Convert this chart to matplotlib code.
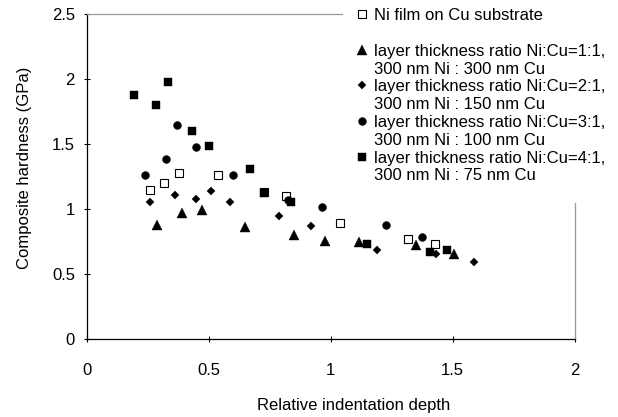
import matplotlib
matplotlib.use('Agg')
import matplotlib.pyplot as plt
from matplotlib.lines import Line2D

plt.rcParams['font.family'] = ['Liberation Sans', 'DejaVu Sans']
plt.rcParams['font.size'] = 12

# ---- data ----
ni_film_x = [0.258, 0.317, 0.377, 0.537, 0.725, 0.817, 1.038, 1.316, 1.427]
ni_film_y = [1.144, 1.197, 1.275, 1.259, 1.130, 1.098, 0.891, 0.770, 0.727]

ratio11_x = [0.289, 0.391, 0.471, 0.650, 0.848, 0.978, 1.117, 1.348, 1.505]
ratio11_y = [0.872, 0.964, 0.992, 0.860, 0.799, 0.755, 0.748, 0.722, 0.653]

ratio21_x = [0.259, 0.362, 0.448, 0.511, 0.589, 0.789, 0.919, 1.189, 1.432, 1.587]
ratio21_y = [1.056, 1.105, 1.074, 1.140, 1.054, 0.941, 0.868, 0.684, 0.653, 0.587]

ratio31_x = [0.239, 0.326, 0.369, 0.447, 0.600, 0.826, 0.966, 1.227, 1.375]
ratio31_y = [1.258, 1.386, 1.643, 1.474, 1.264, 1.071, 1.015, 0.878, 0.780]

ratio41_x = [0.195, 0.284, 0.332, 0.430, 0.500, 0.668, 0.725, 0.837, 1.148, 1.407, 1.475]
ratio41_y = [1.879, 1.798, 1.979, 1.597, 1.487, 1.308, 1.125, 1.056, 0.727, 0.671, 0.684]

x_ticks = [0, 0.5, 1, 1.5, 2]
x_tick_labels = ['0', '0.5', '1', '1.5', '2']
y_ticks = [0, 0.5, 1, 1.5, 2, 2.5]
y_tick_labels = ['0', '0.5', '1', '1.5', '2', '2.5']

label_ni = 'Ni film on Cu substrate'
labels_ratio = [
    ('layer thickness ratio Ni:Cu=1:1,', '300 nm Ni : 300 nm Cu'),
    ('layer thickness ratio Ni:Cu=2:1,', '300 nm Ni : 150 nm Cu'),
    ('layer thickness ratio Ni:Cu=3:1,', '300 nm Ni : 100 nm Cu'),
    ('layer thickness ratio Ni:Cu=4:1,', '300 nm Ni : 75 nm Cu'),
]

# ---- figure ----
W, H = 618, 417
fig = plt.figure(figsize=(W / 100, H / 100), dpi=100)
ax = fig.add_axes([86.7 / W, 1 - 338.7 / H, (574.7 - 86.7) / W, (338.7 - 14) / H])

st_open = dict(linestyle='none', marker='s', ms=5.2, mfc='white', mec='black', mew=0.8)
st_tri = dict(linestyle='none', marker='^', ms=6.5, color='black', mew=0.3)
st_dia = dict(linestyle='none', marker='D', ms=4.2, color='black', mew=0.3)
st_cir = dict(linestyle='none', marker='o', ms=5.7, color='black', mew=0.3)
st_sq = dict(linestyle='none', marker='s', ms=5.8, color='black', mew=0.3)

ax.plot(ni_film_x, ni_film_y, **st_open)
ax.plot(ratio11_x, ratio11_y, **st_tri)
ax.plot(ratio21_x, ratio21_y, **st_dia)
ax.plot(ratio31_x, ratio31_y, **st_cir)
ax.plot(ratio41_x, ratio41_y, **st_sq)

ax.set_xlim(0, 2)
ax.set_ylim(0, 2.5)
ax.set_xticks(x_ticks)
ax.set_xticklabels(x_tick_labels)
ax.set_yticks(y_ticks)
ax.set_yticklabels(y_tick_labels)
ax.tick_params(axis='both', direction='inout', length=5, width=0.8, colors='black', labelsize=12)
ax.tick_params(axis='x', pad=15)
ax.tick_params(axis='y', pad=6)

for s in ('left', 'bottom'):
    ax.spines[s].set_color('black')
    ax.spines[s].set_linewidth(0.9)
for s in ('top', 'right'):
    ax.spines[s].set_color('#999999')
    ax.spines[s].set_linewidth(0.9)
ax.spines['top'].set_bounds(0, 1.046)
ax.spines['right'].set_bounds(0, 1.046)

ax.set_xlabel('Relative indentation depth', fontsize=12)
ax.set_ylabel('Composite hardness (GPa)', fontsize=12)
ax.xaxis.set_label_coords(0.548, -0.184)
ax.yaxis.set_label_coords(-0.112, 0.525)

# ---- legend ----
blank = Line2D([], [], linestyle='none', marker=None)
handles = [Line2D([], [], **st_open), blank]
labels = [label_ni, ' ']
for st, (l1, l2) in zip([st_tri, st_dia, st_cir, st_sq], labels_ratio):
    handles += [Line2D([], [], **st), blank]
    labels += [l1, l2]

leg = fig.legend(handles, labels, loc='upper left',
                 bbox_to_anchor=(354 / W, 1 - 8 / H),
                 frameon=False, borderpad=0, handlelength=1.0,
                 handletextpad=0.2, labelspacing=0.17, fontsize=12,
                 borderaxespad=0)

fig.savefig('out.png', dpi=100)
